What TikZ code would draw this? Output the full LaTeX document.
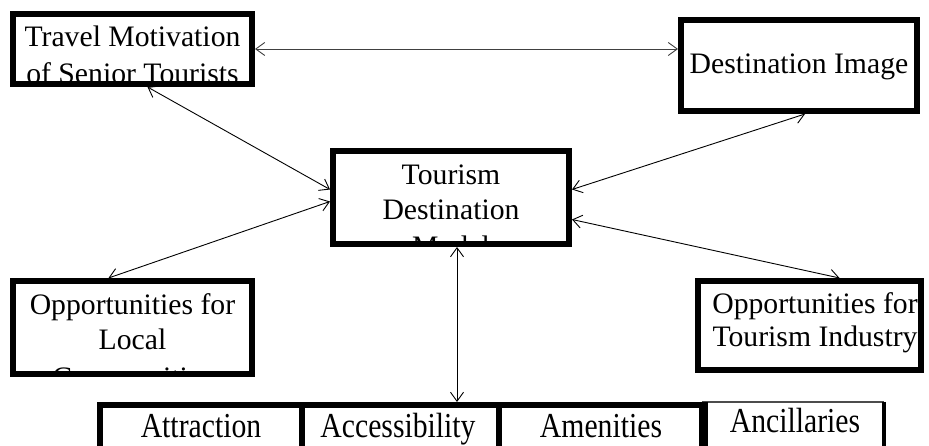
\documentclass[tikz,border=0pt]{standalone}
\usepackage{fontspec}
\setmainfont{Liberation Serif}
\usetikzlibrary{arrows.meta}
\begin{document}
\begin{tikzpicture}[x=1pt,y=-1pt,
  box/.style n args={2}{draw,line width=6pt,fill=white,inner sep=0pt,
    minimum width=#1,minimum height=#2},
  lbl/.style={anchor=base,inner sep=0pt,font=\fontsize{29.7}{35}\selectfont},
  link/.style={line width=0.9pt,
    {Straight Barb[length=9pt,width=13pt]}-{Straight Barb[length=9pt,width=13pt]}}]
\useasboundingbox (0,0) rectangle (929,446);
\clip (0,0) rectangle (929,446);

% the five concept boxes
\node[box={239pt}{70pt}] (mot) at (132.5,49) {};
\node[box={236pt}{91pt}] (img) at (799,65.5) {};
\node[box={236pt}{93pt}] (tdm) at (451,197.5) {};
\node[box={239pt}{93pt}] (loc) at (132.5,327.5) {};
\node[box={223pt}{89pt}] (ind) at (809.5,325.5) {};

% the 4A row along the bottom
\node[box={202pt}{62pt}] (att) at (201,436) {};
\node[box={197pt}{62pt}] (acc) at (400.5,436) {};
\node[box={203pt}{62pt}] (ame) at (600.5,436) {};
\node[fill=white,inner sep=0pt,minimum width=182pt,minimum height=66pt] (anc) at (793,435) {};
\draw[line width=1.5pt,black!70] (anc.north west) -- (anc.north east);
\draw[line width=4pt] (anc.north east) -- (anc.south east);
\draw[line width=6pt] (ame.north east) -- (ame.south east);

% labels, cut off by the inner edge of their box
\newcommand\insidebox[1]{\clip ([shift={(6pt,-6pt)}]#1.north west) rectangle ([shift={(-6pt,6pt)}]#1.south east);}
\begin{scope}\insidebox{mot}
  \node[lbl] (motA) at (132.5,47) {Travel Motivation};
  \node[lbl] (motB) at (132.5,84) {of Senior Tourists};
\end{scope}
\begin{scope}\insidebox{img}
  \node[lbl] (imgA) at (799,74) {Destination Image};
\end{scope}
\begin{scope}\insidebox{tdm}
  \node[lbl] (tdmA) at (451,185) {Tourism};
  \node[lbl] (tdmB) at (451,220) {Destination};
  \node[lbl] (tdmC) at (451,257) {Model};
\end{scope}
\begin{scope}\insidebox{loc}
  \node[lbl] (locA) at (132.5,315) {Opportunities for};
  \node[lbl] (locB) at (132.5,349.5) {Local};
  \node[lbl] (locC) at (132.5,387) {Communities};
\end{scope}
\begin{scope}\insidebox{ind}
  \node[lbl] (indA) at (815,314) {Opportunities for};
  \node[lbl] (indB) at (815,346) {Tourism Industry};
\end{scope}
\node[lbl] (attT) at (201,437) {\scalebox{1}[1.18]{Attraction}};
\node[lbl] (accT) at (398,437) {\scalebox{1}[1.18]{Accessibility}};
\node[lbl] (ameT) at (601,437) {\scalebox{1}[1.18]{Amenities}};
\node[lbl] (ancT) at (795,432) {\scalebox{1}[1.18]{Ancillaries}};

% two-way links
\draw[link,black!75] (mot.east) -- (img.west |- mot.east);
\draw[link] ([xshift=15pt]mot.south) -- ([yshift=8pt]tdm.west);
\draw[link] ([xshift=-24pt]loc.north) -- ([yshift=-4pt]tdm.west);
\draw[link] ([yshift=8pt]tdm.east) -- ([xshift=6pt]img.south);
\draw[link] ([yshift=-22pt]tdm.east) -- ([xshift=30pt]ind.north);
\draw[link] ([xshift=6pt]tdm.south) -- ([xshift=56.5pt]acc.north);
\end{tikzpicture}
\end{document}
